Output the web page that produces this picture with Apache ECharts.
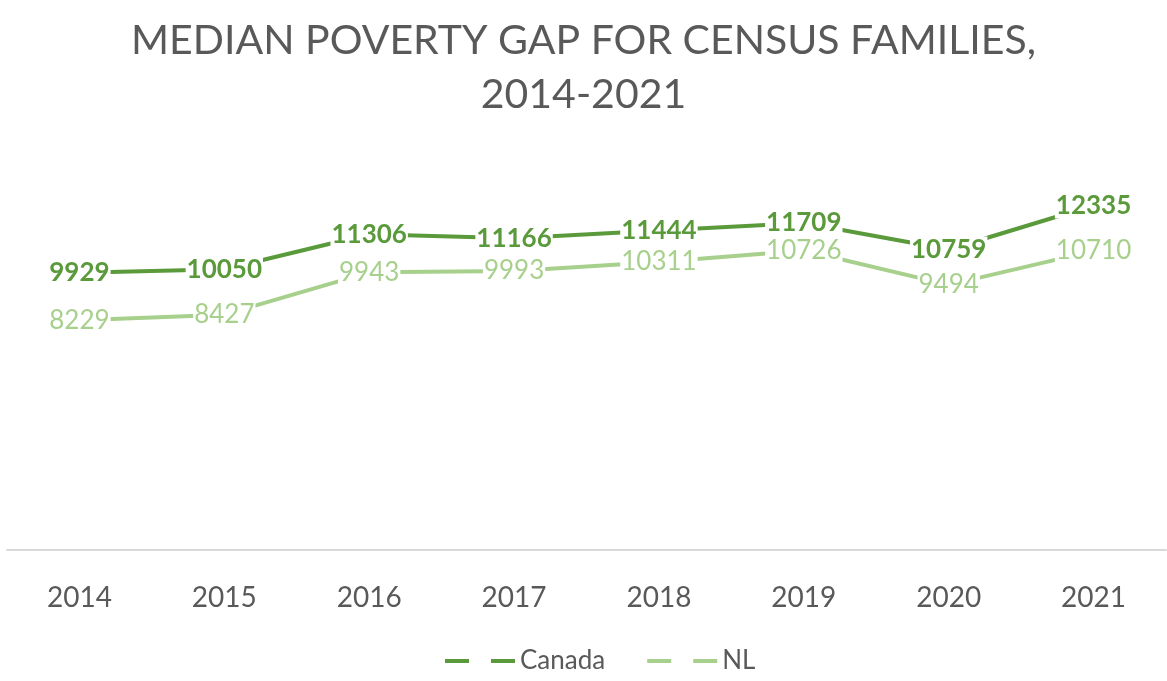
<!DOCTYPE html>
<html>
<head>
<meta charset="utf-8">
<script src="https://cdn.jsdelivr.net/npm/echarts@6/dist/echarts.min.js"></script>
<style>html,body{margin:0;padding:0;background:#fff}#c{width:1167px;height:681px}</style>
</head>
<body>
<div id="c"></div>
<script>
const titleLines = ['MEDIAN POVERTY GAP FOR CENSUS FAMILIES,', '2014-2021'];
const years = ['2014','2015','2016','2017','2018','2019','2020','2021'];
const canada = [9929, 10050, 11306, 11166, 11444, 11709, 10759, 12335];
const nl = [8229, 8427, 9943, 9993, 10311, 10726, 9494, 10710];
const seriesNames = ['Canada', 'NL'];

const darkGreen = '#5A9A3B';
const lightGreen = '#A8D08D';
const font = 'Lato';
const dashIcon = 'path://M0 0H24V4H0Z M46 0H70V4H46Z';

const chart = echarts.init(document.getElementById('c'), null, {renderer: 'canvas'});
chart.setOption({
  animation: false,
  backgroundColor: '#fff',
  graphic: titleLines.map((t, i) => ({
    type: 'text', left: 'center', top: 20 + i * 54,
    style: {text: t, font: 'normal 41px Lato', fill: '#595959'}
  })),
  legend: {
    bottom: 2,
    left: 440,
    itemWidth: 70,
    itemHeight: 4,
    itemGap: 42,
    textStyle: {fontFamily: font, fontSize: 26, color: '#595959'},
    data: [
      {name: seriesNames[0], icon: dashIcon, itemStyle: {color: darkGreen}},
      {name: seriesNames[1], icon: dashIcon, itemStyle: {color: lightGreen}}
    ]
  },
  grid: {left: 7, right: 1, top: 159, bottom: 131, containLabel: false},
  xAxis: {
    type: 'category',
    data: years,
    boundaryGap: true,
    axisLine: {show: true, lineStyle: {color: '#D9D9D9', width: 2}},
    axisTick: {show: false},
    axisLabel: {fontFamily: font, fontSize: 28, color: '#595959', margin: 34}
  },
  yAxis: {
    type: 'value',
    min: 0,
    max: 14000,
    show: false,
    splitLine: {show: false}
  },
  series: [
    {
      name: seriesNames[1],
      type: 'line',
      data: nl,
      symbol: 'circle',
      symbolSize: 0.1,
      showSymbol: true,
      lineStyle: {color: lightGreen, width: 4},
      itemStyle: {color: lightGreen},
      label: {show: true, position: 'inside', fontFamily: font, fontSize: 26, color: lightGreen, fontWeight: 'normal',
              backgroundColor: '#fff', padding: [0, 1]},
      z: 2
    },
    {
      name: seriesNames[0],
      type: 'line',
      data: canada,
      symbol: 'circle',
      symbolSize: 0.1,
      showSymbol: true,
      lineStyle: {color: darkGreen, width: 4},
      itemStyle: {color: darkGreen},
      label: {show: true, position: 'inside', fontFamily: font, fontSize: 26, color: darkGreen, fontWeight: 'bold',
              backgroundColor: '#fff', padding: [0, 1]},
      z: 3
    }
  ]
});
</script>
</body>
</html>
